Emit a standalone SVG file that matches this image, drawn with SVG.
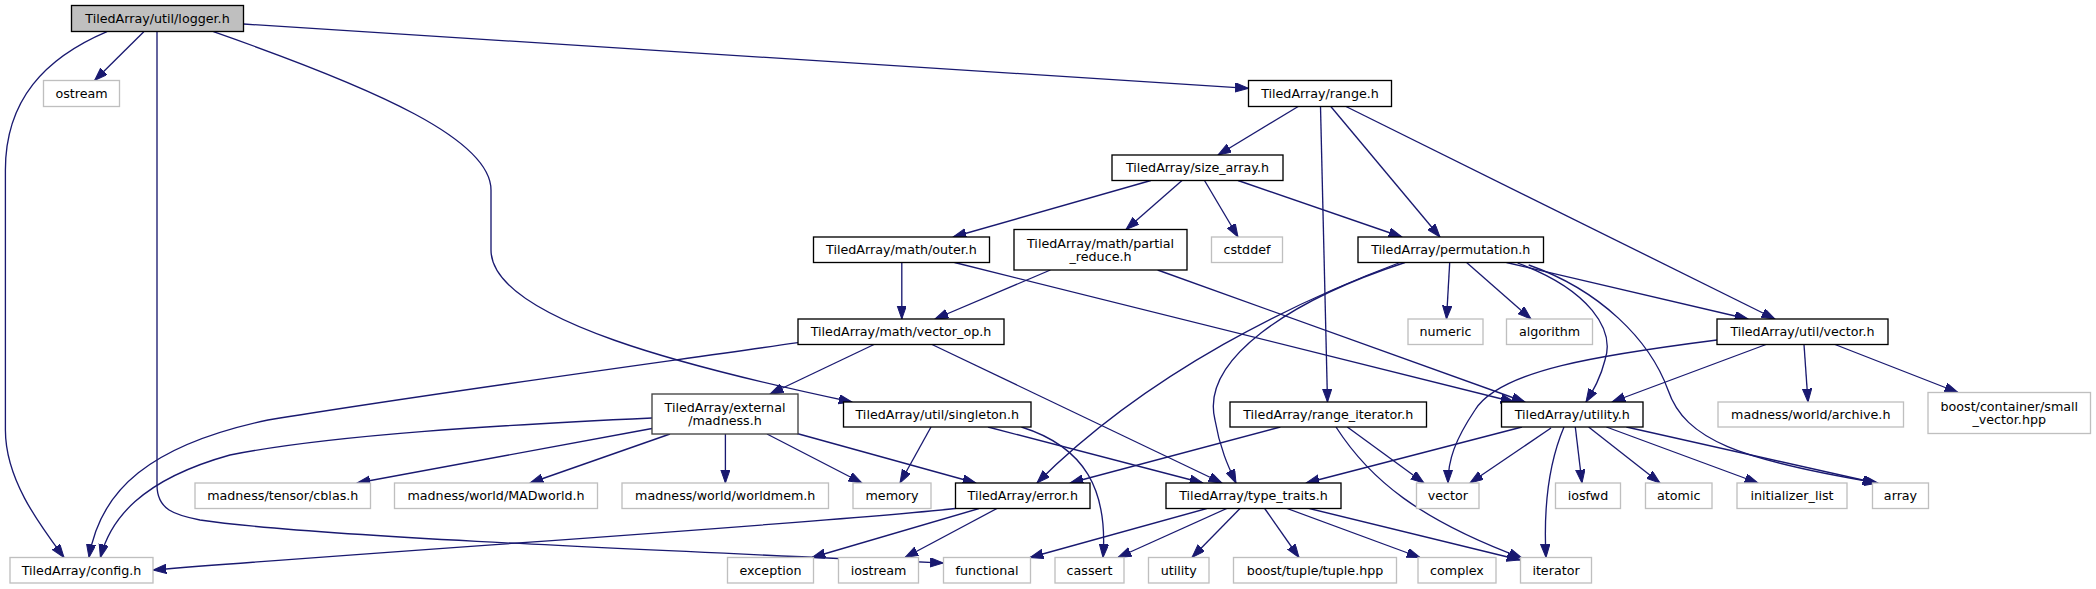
<svg xmlns="http://www.w3.org/2000/svg" width="2096" height="589" viewBox="0 0 2096 589">
<style>
rect{stroke-width:1.33}
.d rect{fill:#fff;stroke:#000}
.u rect{fill:#fff;stroke:#bfbfbf}
.r rect{fill:#bfbfbf;stroke:#000}
text{font-family:"DejaVu Sans","Liberation Sans",sans-serif;font-size:12.7px;text-anchor:middle;fill:#000}
#edges path{fill:none;stroke:#191970;stroke-width:1.33;marker-end:url(#a)}
</style>
<defs>
<marker id="a" markerUnits="userSpaceOnUse" markerWidth="14" markerHeight="10" refX="13.3" refY="4.65" orient="auto">
<path d="M0,0 L13.3,4.65 L0,9.3 z" fill="#191970" stroke="#191970" stroke-width="1"/>
</marker>
</defs>
<rect width="2096" height="589" fill="#fff"/>
<g id="edges">
<path d="M143.8,31.7 L94.6,80.5"/>
<path d="M243.5,24 L1248.5,88.3"/>
<path d="M107,31.7 C45,58 5.4,100 5.4,170 L5.4,430 C5.4,480 40,525 64,557.5"/>
<path d="M157,31.7 L157,485 C157,510 175,515 200,520 C300,535 600,548 943.5,563"/>
<path d="M213.4,31.7 C380,90 491,140 491,190 L491,250 C491,320 700,370 852,402"/>
<path d="M1298.2,106.5 L1218,155"/>
<path d="M1320.5,106.5 L1327.5,402"/>
<path d="M1330.8,106.5 L1440,237"/>
<path d="M1346,106.5 L1775,319"/>
<path d="M1150.9,180.5 L953,237"/>
<path d="M1182,180.5 L1126,229.5"/>
<path d="M1204.5,180.5 L1238,237"/>
<path d="M1238,180.5 L1402,237"/>
<path d="M901.8,262.5 L901.8,319"/>
<path d="M954.5,262.5 L1514,402"/>
<path d="M1157.6,270 L1525,402"/>
<path d="M1050.4,270 L935,319"/>
<path d="M1449.7,262.5 L1446.5,319"/>
<path d="M1466.6,262.5 L1531,319"/>
<path d="M1506.5,262.5 L1748,319"/>
<path d="M1517.6,263 C1590,290 1615,330 1605,360 C1600,380 1592,392 1586,402"/>
<path d="M1528.7,265 C1600,290 1650,340 1668,390 C1685,440 1740,460 1878,483"/>
<path d="M1400,262.5 C1300,300 1150,370 1037,483"/>
<path d="M1405,262.5 C1290,300 1200,360 1215,420 C1220,450 1230,470 1236,483"/>
<path d="M1717,340 C1600,355 1500,370 1475,410 C1455,440 1448,460 1448,483"/>
<path d="M1766,344.5 L1612,402"/>
<path d="M1804,344.5 L1808,402"/>
<path d="M1835,344.5 L1958,392.5"/>
<path d="M798,342.7 C620,368 420,395 268,420 C150,445 100,490 89,557.5"/>
<path d="M874,344.5 L770,394"/>
<path d="M932,344.5 L1222,483"/>
<path d="M652,418 C500,425 330,435 230,455 C140,480 110,520 100.4,557.5"/>
<path d="M652,428.5 L357,483"/>
<path d="M670,434 L530,483"/>
<path d="M725.4,434 L725.4,483"/>
<path d="M767,434 L862,483"/>
<path d="M797,433.5 L976,483"/>
<path d="M931,427 L900,483"/>
<path d="M988,427 L1203,483"/>
<path d="M1021.4,427 C1085,447 1108,490 1103,557.5"/>
<path d="M1280.4,427 L1070,483"/>
<path d="M1347.3,427 L1424,483"/>
<path d="M1336,427 C1370,480 1420,520 1522,558"/>
<path d="M1522,427 L1306,483"/>
<path d="M1551,428 L1470,483"/>
<path d="M1564,427 C1550,460 1543,500 1546,557.5"/>
<path d="M1575.3,427 L1582,483"/>
<path d="M1588.6,427 L1660,483"/>
<path d="M1606.4,427 L1758,483"/>
<path d="M1626.4,427 L1876,483"/>
<path d="M955.4,508.5 C800,525 400,550 153,570"/>
<path d="M979,508.5 L812,557.5"/>
<path d="M997,508.5 L905,557.5"/>
<path d="M1206.7,508.5 L1030,557.5"/>
<path d="M1226.8,508.5 L1118,557.5"/>
<path d="M1240,508.5 L1192,557.5"/>
<path d="M1264.7,508.5 L1299,557.5"/>
<path d="M1287,508.5 L1420,557.5"/>
<path d="M1309.4,508.5 L1520,560"/>
</g>
<g id="logger" class="r"><rect x="71.5" y="5.5" width="172" height="26"/><text x="157.5" y="22.8">TiledArray/util/logger.h</text></g>
<g id="ostream" class="u"><rect x="43.5" y="80.5" width="76" height="26"/><text x="81.5" y="97.8">ostream</text></g>
<g id="range" class="d"><rect x="1248.5" y="80.5" width="143" height="26"/><text x="1320" y="97.8">TiledArray/range.h</text></g>
<g id="size_array" class="d"><rect x="1112" y="155" width="171" height="25.5"/><text x="1197.5" y="172.1">TiledArray/size_array.h</text></g>
<g id="outer" class="d"><rect x="813.5" y="237" width="176" height="25.5"/><text x="901.5" y="254">TiledArray/math/outer.h</text></g>
<g id="partial_reduce" class="d"><rect x="1014" y="229.5" width="173" height="40.5"/><text x="1100.5" y="247.5">TiledArray/math/partial</text><text x="1100.5" y="261">_reduce.h</text></g>
<g id="cstddef" class="u"><rect x="1211.5" y="237" width="71" height="25.5"/><text x="1247" y="254">cstddef</text></g>
<g id="permutation" class="d"><rect x="1358" y="237" width="185.5" height="25.5"/><text x="1450.75" y="254">TiledArray/permutation.h</text></g>
<g id="vector_op" class="d"><rect x="798" y="319" width="206" height="25.5"/><text x="901" y="336">TiledArray/math/vector_op.h</text></g>
<g id="numeric" class="u"><rect x="1408" y="319" width="75" height="25.5"/><text x="1445.5" y="336">numeric</text></g>
<g id="algorithm" class="u"><rect x="1506.5" y="319" width="86" height="25.5"/><text x="1549.5" y="336">algorithm</text></g>
<g id="util_vector" class="d"><rect x="1717" y="319" width="171" height="25.5"/><text x="1802.5" y="336">TiledArray/util/vector.h</text></g>
<g id="external_madness" class="d"><rect x="652" y="394" width="146" height="40" style="stroke:#404040"/><text x="725" y="411.75">TiledArray/external</text><text x="725" y="425.25">/madness.h</text></g>
<g id="singleton" class="d"><rect x="843.5" y="402" width="187.5" height="25"/><text x="937.25" y="418.8">TiledArray/util/singleton.h</text></g>
<g id="range_iterator" class="d"><rect x="1230" y="402" width="196.5" height="25"/><text x="1328.25" y="418.8">TiledArray/range_iterator.h</text></g>
<g id="utility_h" class="d"><rect x="1501.5" y="402" width="141.5" height="25"/><text x="1572.25" y="418.8">TiledArray/utility.h</text></g>
<g id="archive" class="u"><rect x="1718" y="402" width="185.5" height="25"/><text x="1810.75" y="418.8">madness/world/archive.h</text></g>
<g id="small_vector" class="u"><rect x="1928" y="392.5" width="162.5" height="41"/><text x="2009.25" y="410.75">boost/container/small</text><text x="2009.25" y="424.25">_vector.hpp</text></g>
<g id="cblas" class="u"><rect x="195" y="483" width="175.5" height="25.5"/><text x="282.75" y="500">madness/tensor/cblas.h</text></g>
<g id="madworld" class="u"><rect x="394.5" y="483" width="203" height="25.5"/><text x="496" y="500">madness/world/MADworld.h</text></g>
<g id="worldmem" class="u"><rect x="622" y="483" width="206.5" height="25.5"/><text x="725.25" y="500">madness/world/worldmem.h</text></g>
<g id="memory" class="u"><rect x="853" y="483" width="78" height="25.5"/><text x="892" y="500">memory</text></g>
<g id="error" class="d"><rect x="955.5" y="483" width="134.5" height="25.5"/><text x="1022.75" y="500">TiledArray/error.h</text></g>
<g id="type_traits" class="d"><rect x="1166" y="483" width="175" height="25.5"/><text x="1253.5" y="500">TiledArray/type_traits.h</text></g>
<g id="vector" class="u"><rect x="1416.5" y="483" width="62.5" height="25.5"/><text x="1447.75" y="500">vector</text></g>
<g id="iosfwd" class="u"><rect x="1555.5" y="483" width="65" height="25.5"/><text x="1588" y="500">iosfwd</text></g>
<g id="atomic" class="u"><rect x="1645.5" y="483" width="66.5" height="25.5"/><text x="1678.75" y="500">atomic</text></g>
<g id="initializer_list" class="u"><rect x="1737" y="483" width="110" height="25.5"/><text x="1792" y="500">initializer_list</text></g>
<g id="array" class="u"><rect x="1872.5" y="483" width="56" height="25.5"/><text x="1900.5" y="500">array</text></g>
<g id="config" class="u"><rect x="10" y="557.5" width="143" height="25.5"/><text x="81.5" y="574.5">TiledArray/config.h</text></g>
<g id="exception" class="u"><rect x="727.5" y="557.5" width="86" height="25.5"/><text x="770.5" y="574.5">exception</text></g>
<g id="iostream" class="u"><rect x="838.5" y="557.5" width="80" height="25.5"/><text x="878.5" y="574.5">iostream</text></g>
<g id="functional" class="u"><rect x="943.5" y="557.5" width="87" height="25.5"/><text x="987" y="574.5">functional</text></g>
<g id="cassert" class="u"><rect x="1055" y="557.5" width="69" height="25.5"/><text x="1089.5" y="574.5">cassert</text></g>
<g id="utility" class="u"><rect x="1148.5" y="557.5" width="60.5" height="25.5"/><text x="1178.75" y="574.5">utility</text></g>
<g id="boost_tuple" class="u"><rect x="1233.5" y="557.5" width="163" height="25.5"/><text x="1315" y="574.5">boost/tuple/tuple.hpp</text></g>
<g id="complex" class="u"><rect x="1418" y="557.5" width="78" height="25.5"/><text x="1457" y="574.5">complex</text></g>
<g id="iterator" class="u"><rect x="1520.5" y="557.5" width="71" height="25.5"/><text x="1556" y="574.5">iterator</text></g>
</svg>
